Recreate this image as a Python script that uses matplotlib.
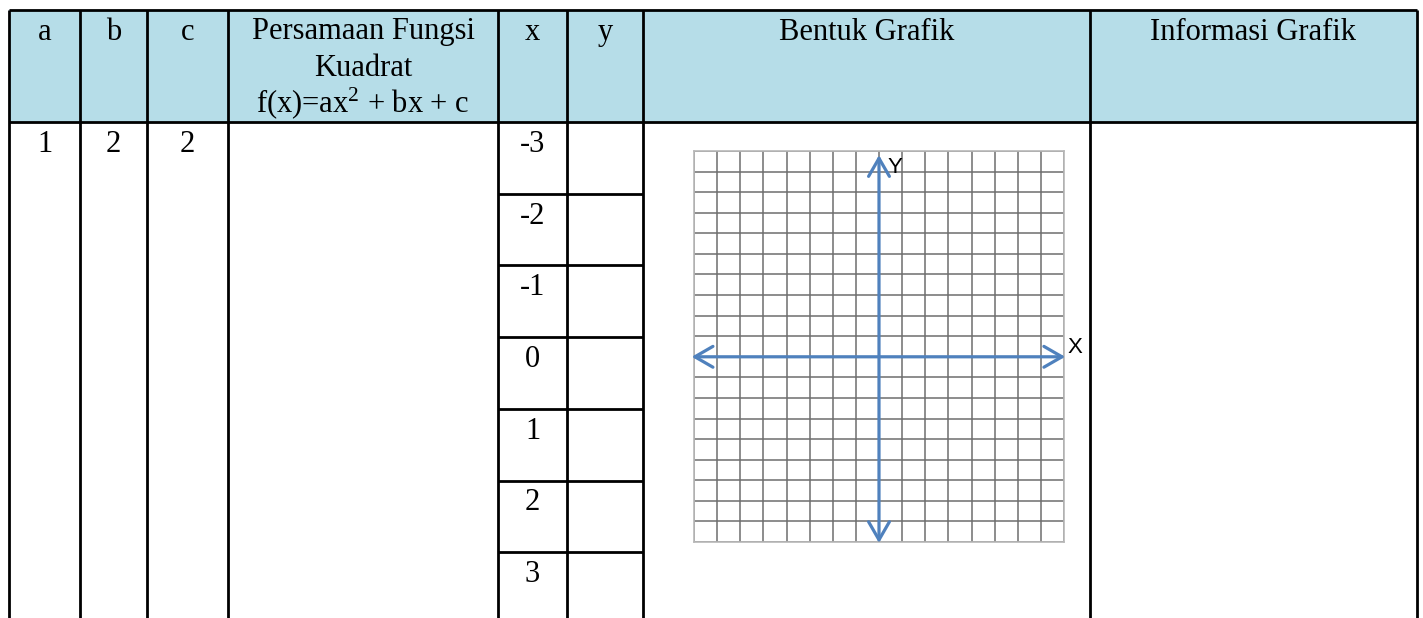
import numpy as np
import matplotlib.pyplot as plt
import matplotlib.patches as mpatches

plt.rcParams['font.family'] = ['Liberation Serif', 'DejaVu Serif']

# Table contents
headers = ['a', 'b', 'c', None, 'x', 'y', 'Bentuk Grafik', 'Informasi Grafik']
equation_header = ['Persamaan Fungsi', 'Kuadrat', r'f(x)=ax$\mathregular{^2}$ + bx + c']
row_abc = ['1', '2', '2']
x_values = ['-3', '-2', '-1', '0', '1', '2', '3']

# Layout (pixels of the 1423x618 page)
col_edges = [9, 80, 147, 228, 498, 567, 643, 1090, 1417]
top, head_bottom = 10, 122
row_h = 71.7
header_color = '#B6DDE8'
blue = '#4F81BD'

fig = plt.figure(figsize=(14.23, 6.18), dpi=100)
ax = fig.add_axes([0, 0, 1, 1])
ax.set_xlim(0, 1423)
ax.set_ylim(618, 0)
ax.axis('off')

# header band
ax.add_patch(mpatches.Rectangle((col_edges[0], top), col_edges[-1] - col_edges[0],
                                head_bottom - top, color=header_color, zorder=0))

# borders
ax.hlines([top, head_bottom], col_edges[0], col_edges[-1], color='black', lw=2)
ax.vlines(col_edges, top, 640, color='black', lw=2)
row_lines = [head_bottom + row_h * (i + 1) for i in range(len(x_values) - 1)]
ax.hlines(row_lines, col_edges[4], col_edges[6], color='black', lw=2)

centers = [(col_edges[i] + col_edges[i + 1]) / 2 for i in range(len(col_edges) - 1)]
fs = 22

# header text
for i, h in enumerate(headers):
    if h is not None:
        ax.text(centers[i], 40, h, ha='center', va='baseline', fontsize=fs)
for k, line in enumerate(equation_header):
    ax.text(centers[3], 39 + 36.5 * k, line, ha='center', va='baseline', fontsize=fs)

# first data row
for i, v in enumerate(row_abc):
    ax.text(centers[i], head_bottom + 30, v, ha='center', va='baseline', fontsize=fs)
for k, v in enumerate(x_values):
    ax.text(centers[4], head_bottom + 30 + row_h * k, v, ha='center', va='baseline', fontsize=fs)

# cartesian grid in "Bentuk Grafik"
gx0, gx1, gy0, gy1 = 694, 1064, 151, 542
ax2 = fig.add_axes([gx0 / 1423, (618 - gy1) / 618, (gx1 - gx0) / 1423, (gy1 - gy0) / 618])
ax2.set_xlim(-8, 8)
ax2.set_ylim(-9, 10)
ax2.set_xticks(np.arange(-8, 9))
ax2.set_yticks(np.arange(-9, 11))
ax2.tick_params(length=0, labelbottom=False, labelleft=False)
ax2.grid(True, color='#6e6e6e', lw=1.1)
for s in ax2.spines.values():
    s.set_color('#b8b8b8')
    s.set_linewidth(1.2)
ax2.set_facecolor('white')

style = mpatches.ArrowStyle('<->', head_length=13, head_width=7.5)
ax2.add_patch(mpatches.FancyArrowPatch((-8.1, 0), (8.05, 0), arrowstyle=style,
                                       mutation_scale=1, lw=2.3, color=blue,
                                       clip_on=False, zorder=5, shrinkA=0, shrinkB=0))
ax2.add_patch(mpatches.FancyArrowPatch((0, -9.05), (0, 9.8), arrowstyle=style,
                                       mutation_scale=1, lw=2.3, color=blue,
                                       clip_on=False, zorder=5, shrinkA=0, shrinkB=0))
ax2.text(0.35, 9.2, 'Y', fontsize=16, family='Liberation Sans', va='center', clip_on=False)
ax2.text(8.15, 0.45, 'X', fontsize=16, family='Liberation Sans', va='center', clip_on=False)

fig.savefig('out.png', dpi=100)
